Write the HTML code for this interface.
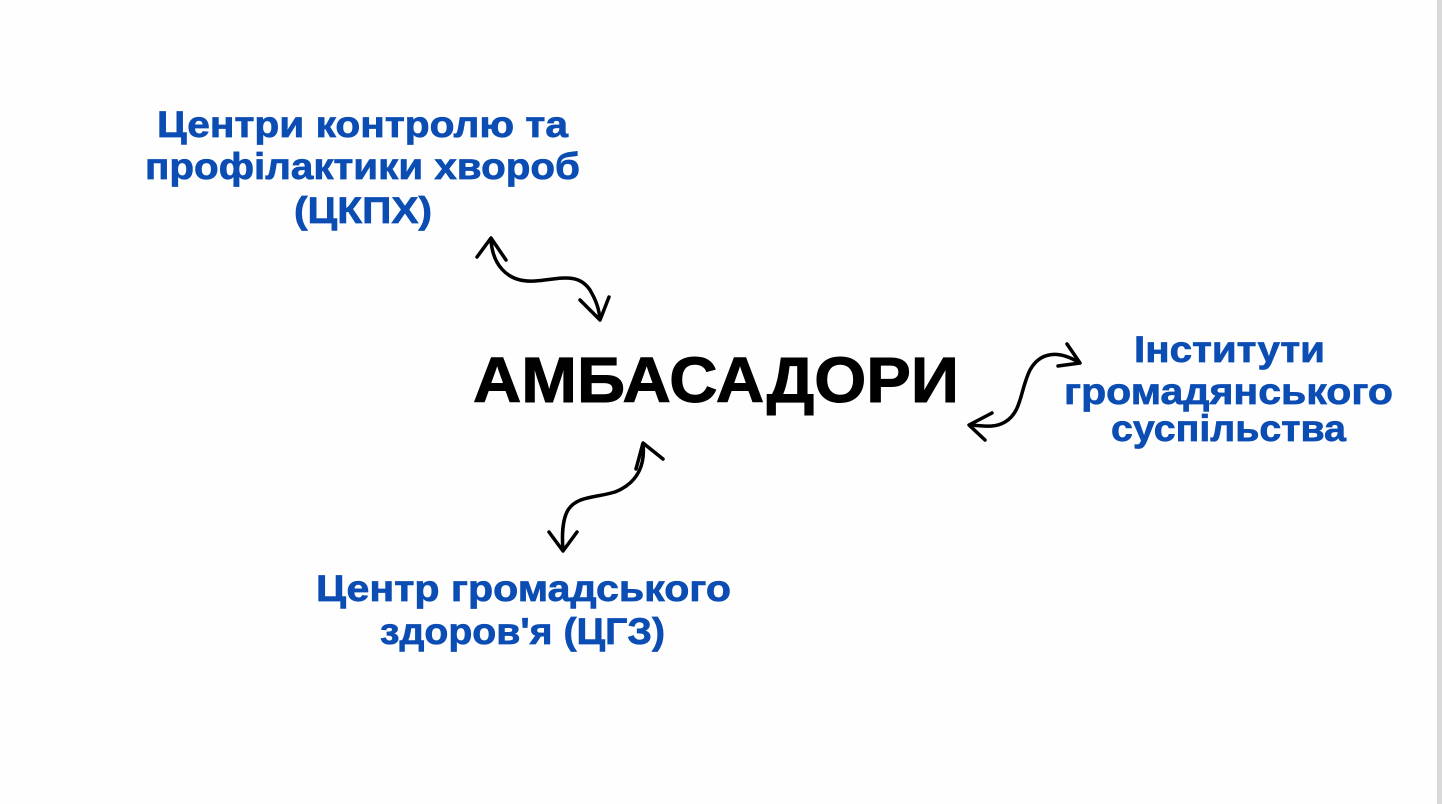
<!DOCTYPE html>
<html><head><meta charset="utf-8"><style>
html,body{margin:0;padding:0;background:#fff;}
svg{display:block;}
</style></head><body>
<svg width="1442" height="804" viewBox="0 0 1442 804" xmlns="http://www.w3.org/2000/svg">
<rect width="1442" height="804" fill="#fefefe"/>
<rect x="1437" y="0" width="5" height="804" fill="#d9d9d9"/>
<g font-family="Liberation Sans, sans-serif" font-weight="bold" fill="#0b4db3" stroke="#0b4db3" stroke-width="0.7" font-size="37">
<text x="157" y="137" textLength="411" lengthAdjust="spacingAndGlyphs">Центри контролю та</text>
<text x="145" y="179" textLength="435" lengthAdjust="spacingAndGlyphs">профілактики хвороб</text>
<text x="294" y="223" textLength="138" lengthAdjust="spacingAndGlyphs">(ЦКПХ)</text>
<text x="1134" y="362" textLength="191" lengthAdjust="spacingAndGlyphs">Інститути</text>
<text x="1064" y="404" textLength="329" lengthAdjust="spacingAndGlyphs">громадянського</text>
<text x="1111" y="441" textLength="235" lengthAdjust="spacingAndGlyphs">суспільства</text>
<text x="316" y="601" textLength="415" lengthAdjust="spacingAndGlyphs">Центр громадського</text>
<text x="380" y="644" textLength="285" lengthAdjust="spacingAndGlyphs">здоров'я (ЦГЗ)</text>
</g>
<text x="473" y="402" font-family="Liberation Sans, sans-serif" font-weight="bold" font-size="64" fill="#000" stroke="#000" stroke-width="1" textLength="486" lengthAdjust="spacingAndGlyphs">АМБАСАДОРИ</text>
<g fill="none" stroke="#000" stroke-width="3.5" stroke-linecap="round" stroke-linejoin="round">
<path d="M491 239 C492 262 505 283 535 281 C560 279 578 272 590 290 C597 302 599 310 600 319"/>
<path d="M477 257 L491 238 L506 260"/>
<path d="M580 300 L600 320 L609 297"/>
<path d="M643 444 C645 462 640 482 615 492 C595 498 577 496 568 510 C562 520 562 538 563 550"/>
<path d="M636 469 L643 443 L663 459"/>
<path d="M549 532 L563 551 L577 532"/>
<path d="M1078 362 C1058 350 1040 352 1030 370 C1020 390 1022 412 1005 422 C995 428 985 426 970 425"/>
<path d="M1067 344 L1080 363 L1058 366"/>
<path d="M992 413 L969 425 L985 440"/>
</g>
</svg>
</body></html>
